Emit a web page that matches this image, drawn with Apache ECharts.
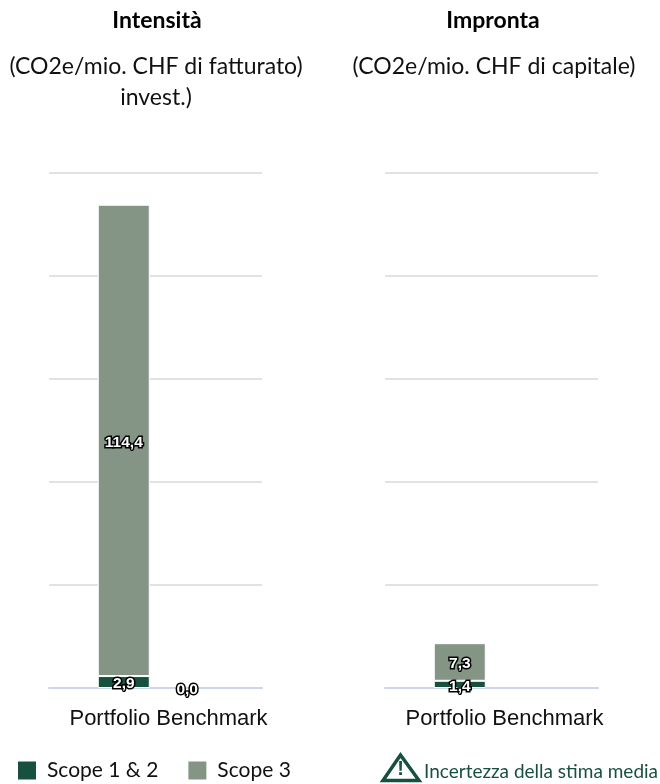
<!DOCTYPE html>
<html><head><meta charset="utf-8">
<style>html,body{margin:0;padding:0;background:#fff}#c{width:660px;height:784px}</style>
<script src="https://cdn.jsdelivr.net/npm/echarts@6/dist/echarts.min.js"></script>
</head><body><div id="c"></div>
<script>
const categories = ["Portfolio Benchmark"];
const intensityScope12Portfolio = [2.9];
const intensityScope3Portfolio = [114.4];
const intensityScope12Benchmark = [0];
const footprintScope12Portfolio = [1.4];
const footprintScope3Portfolio = [7.3];
const footprintScope12Benchmark = [null];
const titleFont = "Lato", bodyColor = "#111";
const DARK = "#17503f", LIGHT = "#849585";

const chart = echarts.init(document.getElementById('c'));
const lbl = {
  show: true, position: 'inside', offset: [0, 2], color: '#fff', fontFamily: 'Liberation Sans', fontWeight: 'bold',
  fontSize: 15.5, textBorderColor: '#000', textBorderWidth: 3,
  formatter: p => p.value == null ? '' : p.value.toFixed(1).replace('.', ',')
};
const ser = (name, idx, stack, data, color, bw) => ({
  type: 'bar', name, xAxisIndex: idx, yAxisIndex: idx, stack: stack + idx, data, barWidth: 52, barGap: '22%',
  itemStyle: { color, borderColor: '#fff', borderWidth: bw }, label: lbl
});
const xAxis = i => ({
  type: 'category', gridIndex: i, data: categories, axisTick: { show: false },
  axisLine: { lineStyle: { color: '#ccd6eb', width: 2 } },
  axisLabel: { color: '#111', fontFamily: 'Liberation Sans', fontSize: 22, margin: 20, padding: [0,0,0,26], interval: 0 }
});
const yAxis = (i, max, interval) => ({
  type: 'value', gridIndex: i, min: 0, max, interval, axisLabel: { show: false }, axisLine: { show: false }, axisTick: { show: false },
  splitLine: { lineStyle: { color: '#d8d8d8', width: 1.5 } }
});
chart.setOption({
  animation: false,
  grid: [
    { left: 49, width: 213, top: 173, height: 515 },
    { left: 385, width: 213, top: 173, height: 515 }
  ],
  xAxis: [xAxis(0), xAxis(1)],
  yAxis: [yAxis(0, 125, 25), yAxis(1, 100, 20)],
  title: [
    { text: 'Intensità', left: 152, top: 4, textAlign: 'center', textStyle: { fontFamily: titleFont, fontSize: 23, fontWeight: 'bold', color: '#000' } },
    { text: 'Impronta', left: 488, top: 4, textAlign: 'center', textStyle: { fontFamily: titleFont, fontSize: 23, fontWeight: 'bold', color: '#000' } },
    { text: '(CO2e/mio. CHF di fatturato)\ninvest.)', left: 151, top: 46, textAlign: 'center', textStyle: { fontFamily: titleFont, fontSize: 23, fontWeight: 'normal', color: bodyColor, lineHeight: 31 } },
    { text: '(CO2e/mio. CHF di capitale)', left: 489, top: 46, textAlign: 'center', textStyle: { fontFamily: titleFont, fontSize: 23, fontWeight: 'normal', color: bodyColor, lineHeight: 31 } }
  ],
  legend: {
    left: 13, top: 755, icon: 'rect', itemWidth: 18, itemHeight: 18, itemGap: 30, data: ['Scope 1 & 2', 'Scope 3'],
    itemStyle: { borderWidth: 0 }, selectedMode: false,
    textStyle: { fontFamily: titleFont, fontSize: 21, color: bodyColor, padding: [0,0,0,6] }
  },
  series: [
    ser('Scope 1 & 2', 0, 'p', intensityScope12Portfolio, DARK, 1),
    ser('Scope 3', 0, 'p', intensityScope3Portfolio, LIGHT, 1),
    ser('Scope 1 & 2', 0, 'b', intensityScope12Benchmark, DARK, 0),
    ser('Scope 1 & 2', 1, 'p', footprintScope12Portfolio, DARK, 1),
    ser('Scope 3', 1, 'p', footprintScope3Portfolio, LIGHT, 1),
    ser('Scope 1 & 2', 1, 'b', footprintScope12Benchmark, DARK, 0)
  ],
  graphic: [
    { type: 'polygon', shape: { points: [[400.5, 755], [383, 780.5], [419, 780.5]] }, style: { fill: 'none', stroke: DARK, lineWidth: 3.5, lineJoin: 'miter' } },
    { type: 'text', x: 400.5, y: 769, style: { text: '!', fill: DARK, font: 'bold 20px "Liberation Sans"', textAlign: 'center', textVerticalAlign: 'middle' } },
    { type: 'text', x: 424, y: 772, style: { text: 'Incertezza della stima media', fill: DARK, font: '19px Lato', textAlign: 'left', textVerticalAlign: 'middle' } }
  ]
});
</script></body></html>
